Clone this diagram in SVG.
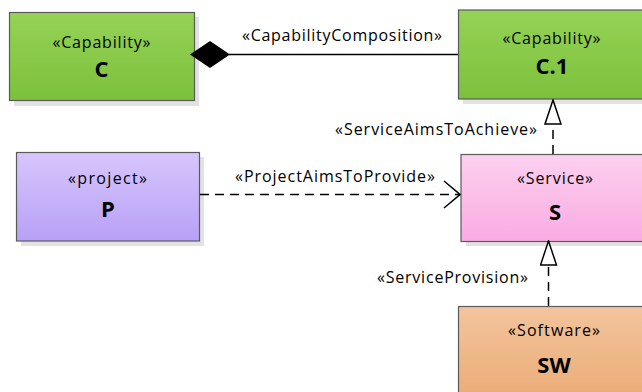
<svg xmlns="http://www.w3.org/2000/svg" width="642" height="392" viewBox="0 0 642 392">
  <defs>
    <linearGradient id="gGreen" x1="0" y1="0" x2="0" y2="1">
      <stop offset="0" stop-color="#95d256"/>
      <stop offset="1" stop-color="#7cc13c"/>
    </linearGradient>
    <linearGradient id="gPurple" x1="0" y1="0" x2="0" y2="1">
      <stop offset="0" stop-color="#d6c6fd"/>
      <stop offset="1" stop-color="#b8a0f6"/>
    </linearGradient>
    <linearGradient id="gPink" x1="0" y1="0" x2="0" y2="1">
      <stop offset="0" stop-color="#fdd0ef"/>
      <stop offset="1" stop-color="#f9abe2"/>
    </linearGradient>
    <linearGradient id="gOrange" x1="0" y1="0" x2="0" y2="1">
      <stop offset="0" stop-color="#f3c49c"/>
      <stop offset="1" stop-color="#eaaa74"/>
    </linearGradient>
    <marker id="openArrow" viewBox="0 0 18 30" refX="17" refY="15" markerWidth="18" markerHeight="30" markerUnits="userSpaceOnUse" orient="auto">
      <path d="M1,1.5 L17,15 L1,28.5" fill="none" stroke="#000" stroke-width="1.5"/>
    </marker>
    <marker id="hollowTri" viewBox="0 0 26 18" refX="25" refY="9" markerWidth="26" markerHeight="18" markerUnits="userSpaceOnUse" orient="auto">
      <path d="M1,1 L25,9 L1,17 Z" fill="#fff" stroke="#000" stroke-width="1.5"/>
    </marker>
  </defs>
  <style>
    .shadow { fill: #e2e2e2; }
    .box { stroke: #5a5a5a; stroke-width: 1.2; }
    .stereo { font-family: "Open Sans", "Liberation Sans", sans-serif; font-size: 16px; fill: #000; text-anchor: middle; }
    .name { font-family: "Open Sans", "Liberation Sans", sans-serif; font-size: 22px; font-weight: bold; fill: #000; text-anchor: middle; }
    .lbl { font-family: "Open Sans", "Liberation Sans", sans-serif; font-size: 16px; fill: #000; }
    .edge { fill: none; stroke: #000; stroke-width: 1.5; }
    .dash { stroke-dasharray: 9 6; }
  </style>

  <!-- capability C -->
  <g id="node-C">
    <rect class="shadow" x="14" y="17" width="185" height="89"/>
    <rect class="box" x="9.5" y="12.5" width="185" height="88" fill="url(#gGreen)"/>
    <text class="stereo" x="101.5" y="48" textLength="98" lengthAdjust="spacing">«Capability»</text>
    <text class="name" x="101.5" y="77">C</text>
  </g>

  <!-- capability C.1 -->
  <g id="node-C1">
    <rect class="shadow" x="463" y="15" width="200" height="89"/>
    <rect class="box" x="458.5" y="10" width="200" height="89" fill="url(#gGreen)"/>
    <text class="stereo" x="551.5" y="44" textLength="98" lengthAdjust="spacing">«Capability»</text>
    <text class="name" x="552" y="74">C.1</text>
  </g>

  <!-- project P -->
  <g id="node-P">
    <rect class="shadow" x="21" y="157" width="183" height="89"/>
    <rect class="box" x="16.5" y="152.5" width="183" height="88.5" fill="url(#gPurple)"/>
    <text class="stereo" x="107.5" y="184" textLength="79" lengthAdjust="spacing">«project»</text>
    <text class="name" x="108" y="217">P</text>
  </g>

  <!-- service S -->
  <g id="node-S">
    <rect class="shadow" x="466" y="159" width="200" height="87"/>
    <rect class="box" x="461" y="154.5" width="200" height="87" fill="url(#gPink)"/>
    <text class="stereo" x="555" y="184" textLength="76" lengthAdjust="spacing">«Service»</text>
    <text class="name" x="555" y="220">S</text>
  </g>

  <!-- software SW -->
  <g id="node-SW">
    <rect class="box" x="458.5" y="306.5" width="200" height="100" fill="url(#gOrange)"/>
    <text class="stereo" x="554" y="336" textLength="92" lengthAdjust="spacing">«Software»</text>
    <text class="name" x="554" y="373">SW</text>
  </g>

  <!-- connectors -->
  <g id="connectors">
    <line class="edge" x1="458" y1="54.5" x2="229" y2="54.5"/>
    <path d="M190,54.5 L210,41 L230,54.5 L210,68 Z" fill="#000"/>
    <text class="lbl" x="242" y="41" textLength="200" lengthAdjust="spacing">«CapabilityComposition»</text>

    <line class="edge dash" x1="200" y1="194.5" x2="460" y2="194.5" marker-end="url(#openArrow)"/>
    <text class="lbl" x="235" y="182" textLength="200" lengthAdjust="spacing">«ProjectAimsToProvide»</text>

    <line class="edge dash" x1="553" y1="154" x2="553" y2="100" marker-end="url(#hollowTri)"/>
    <text class="lbl" x="335" y="134.5" textLength="202" lengthAdjust="spacing">«ServiceAimsToAchieve»</text>

    <line class="edge dash" x1="548.5" y1="306" x2="548.5" y2="241" marker-end="url(#hollowTri)"/>
    <text class="lbl" x="377" y="282.5" textLength="151" lengthAdjust="spacing">«ServiceProvision»</text>
  </g>
</svg>
